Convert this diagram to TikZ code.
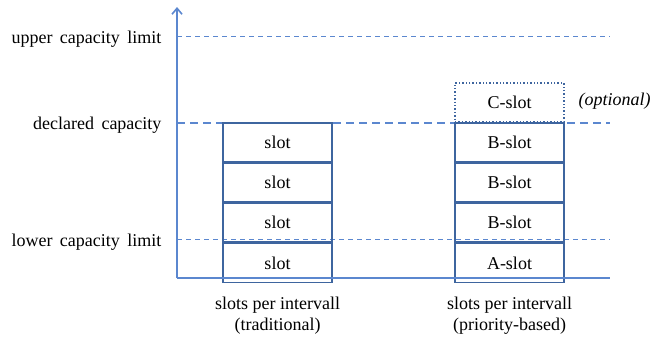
\documentclass[tikz,border=0pt]{standalone}
\usepackage{fontspec}
\setmainfont{Liberation Serif}
\usepackage{xcolor}
\usetikzlibrary{arrows.meta,positioning}

\definecolor{axisblue}{HTML}{5B87CF}
\definecolor{slotblue}{HTML}{3E659F}

\tikzset{
  slotbox/.style={draw=slotblue, line width=1.4pt, minimum width=109pt, minimum height=38.75pt, inner sep=0pt, font=\fontsize{18}{21}\selectfont},
  limit/.style={axisblue, dash pattern=on 5pt off 4pt, line width=0.9pt},
  declared/.style={axisblue, dash pattern=on 8pt off 5pt, line width=1.6pt},
  caption/.style={font=\fontsize{18}{21}\selectfont, align=center},
}

\begin{document}
\begin{tikzpicture}[x=1pt,y=-1pt]
    \useasboundingbox (0,0) rectangle (656,340);

    % axes
    \coordinate (origin) at (177,278);
    \coordinate (ytop) at (177,7);
    \coordinate (xend) at (610,278);

    % capacity levels
    \coordinate (upperL) at (177,36);
    \coordinate (upperR) at (610,36);
    \coordinate (declL) at (177,123);
    \coordinate (declR) at (610,123);
    \coordinate (lowerL) at (177,239.25);
    \coordinate (lowerR) at (610,239.25);

    \draw[limit] (upperL) -- (upperR);
    \draw[declared] (declL) -- (declR);
    \draw[limit] (lowerL) -- (lowerR);

    \node[caption, anchor=east] (upper) at (165,39) {upper\ \,capacity\ \,limit};
    \node[caption, anchor=east] (decl) at (165,125) {declared\ \,capacity};
    \node[caption, anchor=east] (lower) at (165,242) {lower\ \,capacity\ \,limit};

    % traditional column
    \node[slotbox] (t1) at (277.5,142.4) {slot};
    \node[slotbox, below=0pt of t1] (t2) {slot};
    \node[slotbox, below=0pt of t2] (t3) {slot};
    \node[slotbox, below=0pt of t3] (t4) {slot};

    % priority-based column
    \node[slotbox] (p1) at (509.5,142.4) {B-slot};
    \node[slotbox, below=0pt of p1] (p2) {B-slot};
    \node[slotbox, below=0pt of p2] (p3) {B-slot};
    \node[slotbox, below=0pt of p3] (p4) {A-slot};
    \node[slotbox, above=0pt of p1, dotted, line width=1.2pt] (pc) {C-slot};
    \node[caption, font=\fontsize{18}{21}\selectfont\itshape, anchor=west] (opt) at (575,101) {(optional)};

    \draw[axisblue, line width=1.6pt, -{Straight Barb[length=6pt,width=10pt]}] (origin) -- (ytop);
    \draw[axisblue, line width=1.6pt] (origin) -- (xend);

    \node[caption] (trad) at (277.5,316) {slots per intervall\\(traditional)};
    \node[caption] (prio) at (509.5,316) {slots per intervall\\(priority-based)};
\end{tikzpicture}
\end{document}
